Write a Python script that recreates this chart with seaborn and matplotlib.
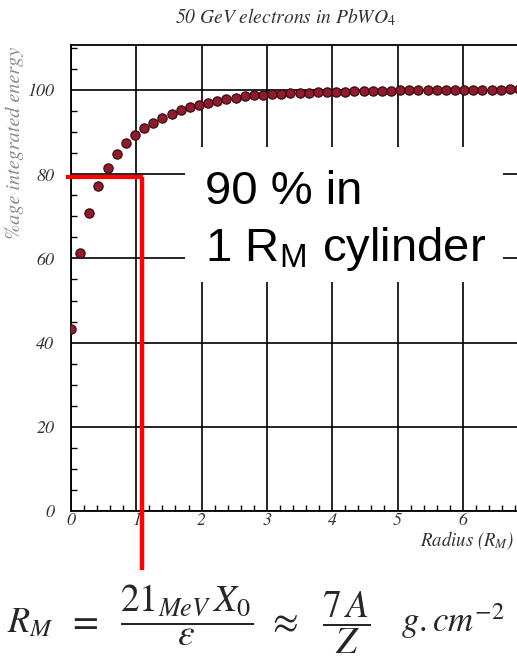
import numpy as np
import pandas as pd
import matplotlib
matplotlib.use("Agg")
import matplotlib.pyplot as plt
from matplotlib.patches import Rectangle
from matplotlib.ticker import MultipleLocator
import seaborn as sns

# ---------------- data ----------------
radius = [0.00, 0.14, 0.28, 0.42, 0.56, 0.70, 0.84, 0.98, 1.12, 1.26,
          1.40, 1.54, 1.68, 1.82, 1.96, 2.10, 2.24, 2.38, 2.52, 2.66,
          2.80, 2.94, 3.08, 3.22, 3.36, 3.50, 3.64, 3.78, 3.92, 4.06,
          4.20, 4.34, 4.48, 4.62, 4.76, 4.90, 5.04, 5.18, 5.32, 5.46,
          5.60, 5.74, 5.88, 6.02, 6.16, 6.30, 6.44, 6.58, 6.72, 6.86]
energy = [43.2, 61.2, 70.9, 77.2, 81.5, 84.7, 87.3, 89.3, 90.9, 92.2,
          93.3, 94.3, 95.2, 95.9, 96.4, 97.0, 97.5, 97.9, 98.2, 98.5,
          98.7, 98.9, 99.0, 99.1, 99.2, 99.3, 99.4, 99.5, 99.5, 99.6,
          99.6, 99.7, 99.7, 99.8, 99.8, 99.8, 99.9, 99.9, 99.9, 99.9,
          100.0, 100.0, 100.0, 100.0, 100.0, 100.0, 100.0, 100.0, 100.2, 100.2]
x_ticks = [0, 1, 2, 3, 4, 5, 6]
x_tick_labels = ["0", "1", "2", "3", "4", "5", "6"]
y_ticks = [0, 20, 40, 60, 80, 100]
y_tick_labels = ["0", "20", "40", "60", "80", "100"]
title_text = "50 GeV electrons in PbWO$_4$"
ylabel_text = "%age integrated energy"
xlabel_text = "Radius ($R_M$)"
box_line1 = "90 % in"
box_line2 = "1 R$_\\mathregular{M}$ cylinder"
marker_level = 79.3     # red guide level
marker_radius = 1.08    # red guide radius

df = pd.DataFrame({"radius": radius, "energy": energy})

# ---------------- style ----------------
sns.set_theme(style="white")
plt.rcParams["font.family"] = ["STIXGeneral", "DejaVu Sans"]
plt.rcParams["mathtext.fontset"] = "stix"

W, H = 517, 663
fig = plt.figure(figsize=(W / 100, H / 100), dpi=100)
fig.patch.set_facecolor("white")

# axes geometry (pixels): left 71, top 45, bottom 511, 65.3 px per unit
x_px0, y_px0 = 71, 511
ppx, ppy = 65.3, 4.21
xmax, ymax = 7.0, 110.7
ax = fig.add_axes([x_px0 / W, (H - y_px0) / H, xmax * ppx / W, ymax * ppy / H])
ax.set_xlim(0, xmax)
ax.set_ylim(0, ymax)

sns.scatterplot(data=df, x="radius", y="energy", ax=ax, marker="o", s=44,
                color="#8f1b2c", edgecolor="#3a0a12", linewidth=0.9,
                zorder=5, clip_on=True)

ax.set_xticks(x_ticks, labels=x_tick_labels, fontstyle="italic",
              fontsize=13, color="#333333")
ax.set_yticks(y_ticks, labels=y_tick_labels, fontstyle="italic",
              fontsize=13, color="#333333")
ax.xaxis.set_minor_locator(MultipleLocator(0.2))
ax.yaxis.set_minor_locator(MultipleLocator(5))
ax.tick_params(axis="both", which="major", direction="in", length=0, width=1.2)
ax.tick_params(axis="x", which="major", pad=1)
ax.tick_params(axis="y", which="major", pad=12)
ax.tick_params(axis="both", which="minor", direction="in", length=4, width=1.0,
               color="black", bottom=True, left=True, top=False, right=False)
ax.set_xlabel("")
ax.set_ylabel("")
ax.grid(True, which="major", color="black", linewidth=1.2)
ax.set_axisbelow(True)
for sp in ax.spines.values():
    sp.set_visible(True)
    sp.set_color("black")
    sp.set_linewidth(1.3)

# white annotation box
bx0 = (185 - x_px0) / ppx
bx1 = (503 - x_px0) / ppx
by0 = (y_px0 - 282) / ppy
by1 = (y_px0 - 147) / ppy
ax.add_patch(Rectangle((bx0, by0), bx1 - bx0, by1 - by0, facecolor="white",
                       edgecolor="none", zorder=3))
ax.text((205 - x_px0) / ppx, (y_px0 - 204) / ppy, box_line1,
        fontfamily="Liberation Sans", fontsize=34, ha="left", va="baseline",
        color="black", zorder=6)
ax.text((205 - x_px0) / ppx, (y_px0 - 261) / ppy, box_line2,
        fontfamily="Liberation Sans", fontsize=34, ha="left", va="baseline",
        color="black", zorder=6)

# red guide lines
ax.plot([-0.08, 1.104], [marker_level, marker_level], color="#ff0000",
        linewidth=3.0, clip_on=False, zorder=7, solid_capstyle="butt")
ax.plot([marker_radius, marker_radius], [marker_level, -14.0], color="#ff0000",
        linewidth=3.2, clip_on=False, zorder=7, solid_capstyle="butt")

# title, axis labels
fig.text(286 / W, 1 - 17 / H, title_text, ha="center", va="center",
         fontstyle="italic", fontsize=14, color="#333333")
fig.text(15 / W, 1 - 143 / H, ylabel_text, ha="center", va="center",
         rotation=90, fontstyle="italic", fontsize=14.5, color="#8a8a8a")
fig.text(420 / W, 1 - 541 / H, xlabel_text, ha="left", va="center",
         fontstyle="italic", fontsize=13.5, color="#333333")

# formula at the bottom
fs = 27
base = 1 - 632 / H
fig.text(7 / W, base, r"$R_M$", ha="left", va="baseline", fontsize=fs - 1)
fig.text(83 / W, base, r"$=$", ha="center", va="baseline", fontsize=fs)
fig.text(187 / W, base, r"$\dfrac{21_{MeV}\,X_0}{\varepsilon}$",
         ha="center", va="baseline", fontsize=fs)
fig.text(283 / W, base, r"$\approx$", ha="center", va="baseline", fontsize=fs)
fig.text(346 / W, base, r"$\dfrac{7\,A}{Z}$", ha="center", va="baseline",
         fontsize=fs)
fig.text(401 / W, base, r"$g{.}cm^{-2}$", ha="left", va="baseline",
         fontsize=25)

fig.savefig("out.png", dpi=100)
